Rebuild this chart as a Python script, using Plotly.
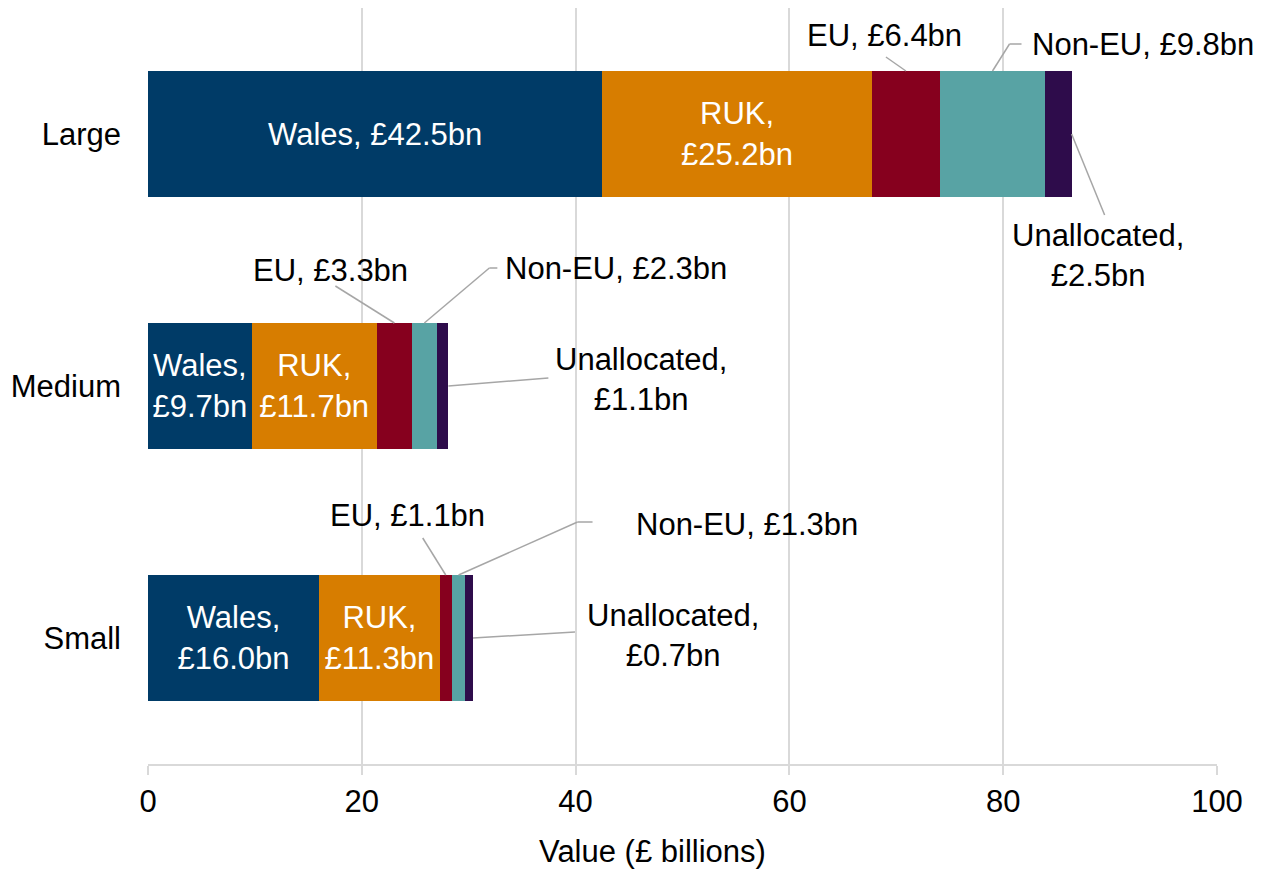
import plotly.graph_objects as go

# ---------------- data ----------------
categories = ["Large", "Medium", "Small"]
wales = [42.5, 9.7, 16.0]
ruk = [25.2, 11.7, 11.3]
eu = [6.4, 3.3, 1.1]
non_eu = [9.8, 2.3, 1.3]
unallocated = [2.5, 1.1, 0.7]
x_ticks = [0, 20, 40, 60, 80, 100]
series_names = ["Wales", "RUK", "EU", "Non-EU", "Unallocated"]
x_title = "Value (£ billions)"

# ---------------- style ----------------
colors = ["#003B67", "#D77D00", "#86001E", "#58A3A4", "#2E0C4B"]
FONT = "Liberation Sans, Arial, sans-serif"
FS = 31
W, H = 1253, 862
M = dict(l=140, r=44, t=0, b=106)
XR = [0, 100]
YR = [-0.5, 2.5]
pxx = (W - M["l"] - M["r"]) / (XR[1] - XR[0])
pxy = (H - M["t"] - M["b"]) / (YR[1] - YR[0])
ypos = [len(categories) - 1 - i for i in range(len(categories))]
BAR_HALF = 0.25
LEADER = "#A6A6A6"

series_vals = [wales, ruk, eu, non_eu, unallocated]

# inside label separators (layout choice): Wales/RUK are inside labels
inside_sep = {
    "Wales": [", ", ",<br>", ",<br>"],
    "RUK": [",<br>", ",<br>", ",<br>"],
}

# outside labels: (series, category index) -> anchor, leader offsets (px, y down), text offset, xanchor, sep
outside = {
    ("EU", 0): ("top", [(-20, -14)], (-21, -36), "center", ", "),
    ("Non-EU", 0): ("top", [(17, -27), (29, -27)], (37, -27), "left", ", "),
    ("Unallocated", 0): ("end", [(33, 81)], (26, 121), "center", ",<br>"),
    ("EU", 1): ("top", [(-59, -37)], (-64, -53), "center", ", "),
    ("Non-EU", 1): ("top", [(65, -55), (73, -55)], (79, -55), "left", ", "),
    ("Unallocated", 1): ("end", [(100, -8)], (193, -7), "center", ",<br>"),
    ("EU", 2): ("top", [(-23, -37)], (-38, -60), "center", ", "),
    ("Non-EU", 2): ("top", [(119, -53), (134, -53)], (175, -51), "left", ", "),
    ("Unallocated", 2): ("end", [(102, -6)], (200, -3), "center", ",<br>"),
}


def fmt(v):
    return f"£{v:.1f}bn"


fig = go.Figure()
for name, vals, col in zip(series_names, series_vals, colors):
    if name in inside_sep:
        text = [f"{name}{sep}{fmt(v)}" for v, sep in zip(vals, inside_sep[name])]
    else:
        text = None
    fig.add_trace(go.Bar(
        name=name, x=vals, y=ypos, orientation="h", marker=dict(color=col, line=dict(width=0)),
        text=text, textposition="inside" if text else "none", insidetextanchor="middle",
        textangle=0, constraintext="none",
        textfont=dict(color="white", size=FS, family=FONT), hoverinfo="skip",
    ))

shapes = []
annotations = []
for ci in range(len(categories)):
    start = 0.0
    for name, vals in zip(series_names, series_vals):
        v = vals[ci]
        key = (name, ci)
        if key in outside:
            anchor, pts, toff, xanc, sep = outside[key]
            if anchor == "top":
                ax, ay = start + v / 2, ypos[ci] + BAR_HALF
            else:
                ax, ay = start + v, ypos[ci]
            px0, py0 = ax, ay
            for dx, dy in pts:
                px1, py1 = ax + dx / pxx, ay - dy / pxy
                shapes.append(dict(type="line", xref="x", yref="y", x0=px0, y0=py0, x1=px1, y1=py1,
                                   line=dict(color=LEADER, width=1.5)))
                px0, py0 = px1, py1
            annotations.append(dict(x=ax, y=ay, xref="x", yref="y", xshift=toff[0], yshift=-toff[1],
                                    text=f"{name}{sep}{fmt(v)}", showarrow=False, xanchor=xanc,
                                    yanchor="middle", align="center",
                                    font=dict(size=FS, color="black", family=FONT)))
        start += v

annotations.append(dict(x=0.472, y=0, xref="paper", yref="paper", yshift=-87, text=x_title,
                        showarrow=False, xanchor="center", yanchor="middle",
                        font=dict(size=FS, color="black", family=FONT)))

fig.update_layout(
    width=W, height=H, margin=M, barmode="stack", bargap=0.5,
    plot_bgcolor="white", paper_bgcolor="white", showlegend=False,
    font=dict(family=FONT, size=FS, color="black"),
    shapes=shapes, annotations=annotations,
    xaxis=dict(range=XR, tickvals=x_ticks, showgrid=True, gridcolor="#D9D9D9", gridwidth=1.5,
               zeroline=False, showline=True, linecolor="#D9D9D9", linewidth=1.5,
               ticks="outside", ticklen=9, tickcolor="#D9D9D9", tickwidth=1.5,
               tickfont=dict(size=FS, color="black")),
    yaxis=dict(range=YR, tickvals=ypos, ticktext=categories, showgrid=False, zeroline=False,
               showline=False, ticks="", ticklabelstandoff=26,
               tickfont=dict(size=FS, color="black")),
)

fig.write_html("out.html")
